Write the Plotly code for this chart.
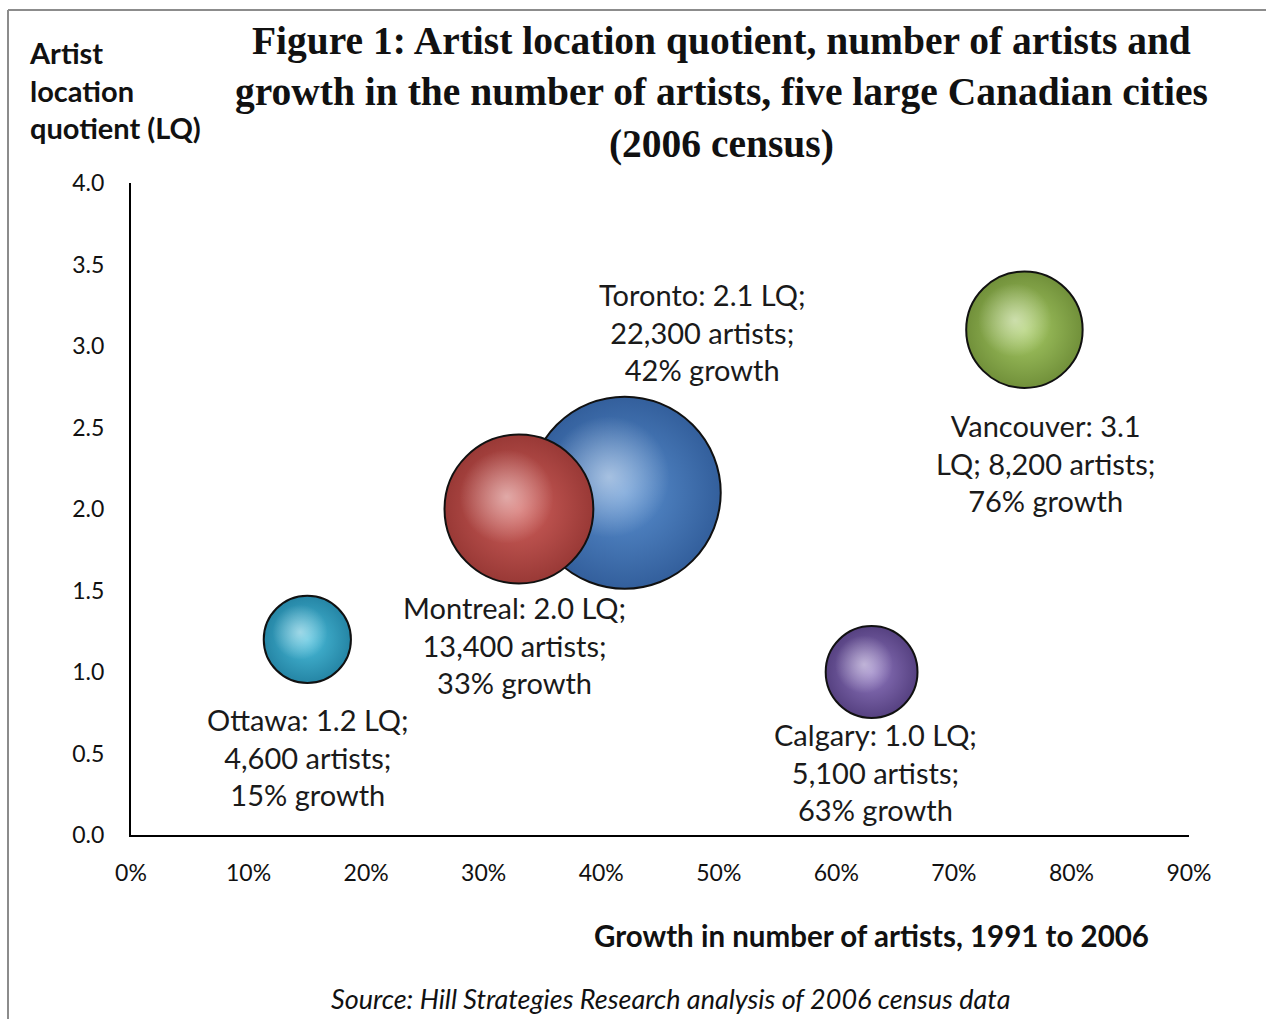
import plotly.graph_objects as go

# Five large Canadian cities, 2006 census (listed in drawing order,
# so Montreal sits in front of Toronto)
cities = ["Ottawa", "Toronto", "Montreal", "Vancouver", "Calgary"]
growth = [0.15, 0.42, 0.33, 0.76, 0.63]          # growth in artists, 1991-2006
lq = [1.2, 2.1, 2.0, 3.1, 1.0]                   # artist location quotient
artists = [4600, 22300, 13400, 8200, 5100]       # number of artists
edge_colors = ["#2585a5", "#335f9c", "#993936", "#71903a", "#564181"]
body_colors = ["#4bbfdc", "#5a90d0", "#d0605c", "#a8cc66", "#9078c0"]

# label anchor points (data units)
label_x = [0.1506, 0.4857, 0.3266, 0.778, 0.633]
label_y = [0.479, 3.086, 1.166, 2.282, 0.387]

x_ticks = [0, 0.1, 0.2, 0.3, 0.4, 0.5, 0.6, 0.7, 0.8, 0.9]
y_ticks = [0.0, 0.5, 1.0, 1.5, 2.0, 2.5, 3.0, 3.5, 4.0]

BODY = "Lato, 'Liberation Sans', Arial, sans-serif"
SERIF = "'Liberation Serif', 'Times New Roman', serif"

W, H = 1266, 1019
L, R, T, B = 131, 1189, 183, 835
X_RANGE, Y_RANGE = [0, 0.9], [0, 4]
MAX_DIAM = 192
SIZEREF = 2 * max(artists) / MAX_DIAM ** 2


def px(xp):
    return (xp - L) / (R - L)


def py(yp):
    return (B - yp) / (B - T)


fig = go.Figure()

x_per_px = (X_RANGE[1] - X_RANGE[0]) / (R - L)
y_per_px = (Y_RANGE[1] - Y_RANGE[0]) / (B - T)

for i in range(len(cities)):
    # sphere body
    fig.add_trace(go.Scatter(
        x=[growth[i]], y=[lq[i]], mode="markers",
        marker=dict(
            size=[artists[i]], sizemode="area", sizeref=SIZEREF,
            color=edge_colors[i],
            gradient=dict(type="radial", color=body_colors[i]),
            line=dict(color="#111111", width=2),
            opacity=1,
        ),
        hoverinfo="skip", showlegend=False,
    ))
    # soft specular highlight toward the upper left
    r_px = (artists[i] / 2 / SIZEREF) ** 0.5 / 2
    fig.add_trace(go.Scatter(
        x=[growth[i] - 0.33 * r_px * x_per_px],
        y=[lq[i] + 0.33 * r_px * y_per_px],
        mode="markers",
        marker=dict(
            size=[artists[i] * 0.4], sizemode="area", sizeref=SIZEREF,
            color="rgba(255,255,255,0)",
            gradient=dict(type="radial", color="rgba(255,255,255,0.7)"),
            line=dict(width=0),
        ),
        hoverinfo="skip", showlegend=False,
    ))

for c, g, v, n, lx, ly in zip(cities, growth, lq, artists, label_x, label_y):
    pct = round(g * 100)
    if c == "Vancouver":
        txt = f"{c}: {v:.1f}<br>LQ; {n:,} artists;<br>{pct}% growth"
    else:
        txt = f"{c}: {v:.1f} LQ;<br>{n:,} artists;<br>{pct}% growth"
    fig.add_annotation(x=lx, y=ly, xref="x", yref="y", text=txt, showarrow=False,
                       font=dict(family=BODY, size=29, color="#1a1a1a"),
                       align="center", xanchor="center", yanchor="middle")

fig.add_annotation(
    x=px(721), y=py(17), xref="paper", yref="paper", showarrow=False,
    text="<b>Figure 1: Artist location quotient, number of artists and<br>"
         "growth in the number of artists, five large Canadian cities<br>"
         "(2006 census)</b>",
    font=dict(family=SERIF, size=39.5, color="#111111"),
    align="center", xanchor="center", yanchor="top",
)
fig.add_annotation(
    x=px(27), y=py(33), xref="paper", yref="paper", showarrow=False,
    text="<b>Artist<br>location<br>quotient (LQ)</b>",
    font=dict(family=BODY, size=29, color="#111111"),
    align="left", xanchor="left", yanchor="top",
)
fig.add_annotation(
    x=px(1151), y=py(936), xref="paper", yref="paper", showarrow=False,
    text="<b>Growth in number of artists, 1991 to 2006</b>",
    font=dict(family=BODY, size=29.5, color="#111111"),
    xanchor="right", yanchor="middle",
)
fig.add_annotation(
    x=px(670), y=py(998), xref="paper", yref="paper", showarrow=False,
    text="<i>Source: Hill Strategies Research analysis of 2006 census data</i>",
    font=dict(family=BODY, size=27, color="#111111"),
    xanchor="center", yanchor="middle",
)

# outer frame (top and left edges)
fig.add_shape(type="line", xref="paper", yref="paper",
              x0=px(8), y0=py(10), x1=px(W + 5), y1=py(10),
              line=dict(color="#8c8c8c", width=2))
fig.add_shape(type="line", xref="paper", yref="paper",
              x0=px(8), y0=py(10), x1=px(8), y1=py(H + 5),
              line=dict(color="#8c8c8c", width=2))

fig.update_xaxes(
    range=X_RANGE, tickvals=x_ticks, tickformat=".0%",
    showgrid=False, zeroline=False, showline=True, linecolor="#000000", linewidth=2,
    ticks="outside", ticklen=16, tickcolor="rgba(0,0,0,0)",
    tickfont=dict(family=BODY, size=23, color="#111111"),
)
fig.update_yaxes(
    range=Y_RANGE, tickvals=y_ticks, tickformat=".1f",
    showgrid=False, zeroline=False, showline=True, linecolor="#000000", linewidth=2,
    ticks="outside", ticklen=20, tickcolor="rgba(0,0,0,0)",
    tickfont=dict(family=BODY, size=23, color="#111111"),
)
fig.update_layout(
    width=W, height=H,
    margin=dict(l=L, r=W - R, t=T, b=H - B),
    paper_bgcolor="white", plot_bgcolor="white",
)
fig.write_html("out.html")
